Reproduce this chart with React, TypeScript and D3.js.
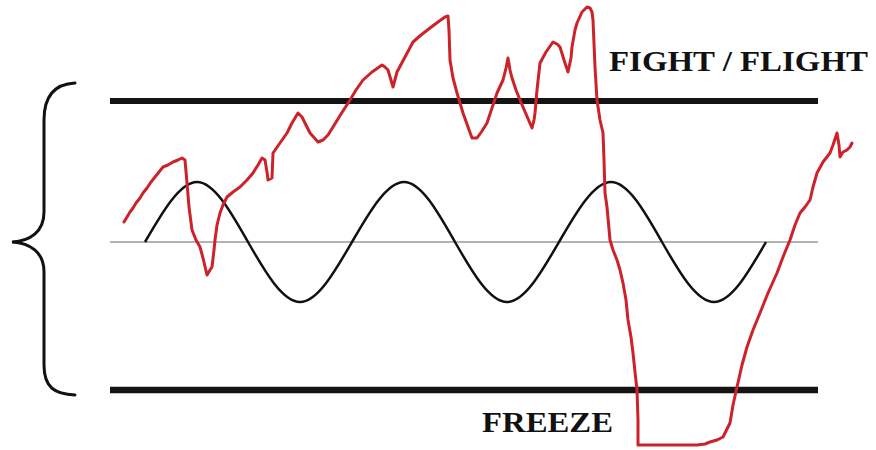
import React from "react";
import * as d3 from "d3";

// Red trace: time (frames) and arousal (relative to baseline)
const redTime = [
  14, 17, 20, 23, 26, 30, 33, 37, 41, 45, 49, 53, 58, 63, 68, 72, 75, 77, 79, 82,
  86, 90, 93, 97, 100, 102, 104, 105, 107, 110, 113, 117, 123, 130, 137, 143, 148, 152, 155, 157,
  158, 162, 163, 170, 177, 182, 188, 192, 195, 200, 208, 213, 218, 223, 231, 240, 246, 253, 262, 272,
  275, 278, 283, 287, 295, 303, 311, 320, 328, 335, 338, 339, 340, 343, 347, 353, 358, 362, 367, 372,
  377, 382, 387, 393, 396, 398, 400, 402, 406, 410, 416, 422, 424, 425, 427, 430, 436, 443, 447, 450,
  454, 458, 461, 462, 465, 467, 472, 477, 480, 482, 483, 485, 487, 490, 493, 494, 495, 497, 500, 503,
  507, 510, 513, 516, 518, 521, 523, 525, 527, 528, 528, 550, 570, 587, 595, 600, 607, 613, 620, 623,
  627, 632, 637, 643, 650, 658, 667, 673, 680, 685, 690, 695, 700, 703, 707, 713, 720, 723, 727, 729,
  730, 733, 737, 740, 742,
];
const redArousal = [
  20, 25, 30, 34, 39, 44, 49, 54, 60, 65, 70, 75, 77, 80, 82, 84, 82, 59, 35, 12,
  2, -5, -16, -33, -28, -25, -8, 2, 17, 29, 37, 45, 50, 55, 62, 69, 77, 84, 82, 70,
  62, 64, 89, 99, 109, 119, 129, 125, 119, 109, 100, 102, 107, 115, 128, 142, 152, 162, 170, 177,
  175, 172, 155, 170, 185, 200, 207, 214, 220, 225, 226, 212, 182, 164, 149, 129, 115, 104, 104, 111,
  119, 134, 149, 162, 174, 184, 172, 164, 152, 142, 128, 114, 122, 129, 152, 179, 190, 200, 198, 195,
  182, 170, 184, 195, 212, 219, 230, 235, 234, 230, 222, 175, 142, 122, 109, 82, 49, 35, 2, -8,
  -18, -28, -41, -58, -78, -95, -111, -130, -148, -178, -203, -203, -203, -203, -202, -200, -198, -195, -181, -163,
  -145, -123, -105, -88, -71, -51, -31, -15, 2, 17, 29, 35, 42, 55, 69, 80, 89, 97, 109, 97,
  85, 90, 92, 95, 99,
];

// Ideal rhythm: zero crossings and extremes
const waveTime = [35, 87, 138, 190, 242, 294, 345, 397, 449, 501, 552, 604, 656];
const waveArousal = [0, 60, 0, -60, 0, 60, 0, -60, 0, 60, 0, -60, 0];

const upperLimit = 141;
const lowerLimit = -148;
const baseline = 0;
const timeExtent = [0, 708];

const labelUpper = "FIGHT / FLIGHT";
const labelLower = "FREEZE";

export default function App() {
  const W = 876;
  const H = 450;
  const x = d3.scaleLinear().domain(timeExtent).range([110, 818]);
  const y = d3.scaleLinear().domain([lowerLimit, upperLimit]).range([390, 101]);

  const redPath =
    d3
      .line<number>()
      .x((_, i) => x(redTime[i]))
      .y((d) => y(d))(redArousal) || "";

  const wavePath =
    d3
      .line<number>()
      .x((_, i) => x(waveTime[i]))
      .y((d) => y(d))
      .curve(d3.curveNatural)(waveArousal) || "";

  const top = y(upperLimit) - 18;
  const bot = y(lowerLimit) + 5;
  const mid = y(baseline);
  const xe = 75;
  const xs = 44;
  const xt = 12;
  const brace = d3.path();
  brace.moveTo(xe, top);
  brace.bezierCurveTo(55, top + 1, xs, top + 12, xs, top + 37);
  brace.lineTo(xs, mid - 30);
  brace.bezierCurveTo(xs, mid - 10, 30, mid - 1, xt, mid);
  brace.bezierCurveTo(30, mid + 1, xs, mid + 10, xs, mid + 30);
  brace.lineTo(xs, bot - 30);
  brace.bezierCurveTo(xs, bot - 7, 55, bot - 1, xe, bot);

  return (
    <div style={{ position: "absolute", left: 0, top: 0 }}>
      <svg width={W} height={H} viewBox={`0 0 ${W} ${H}`} style={{ display: "block", background: "#fff" }}>
        <line x1={x(timeExtent[0])} x2={x(timeExtent[1])} y1={y(baseline)} y2={y(baseline)} stroke="#9a9a9a" strokeWidth={1.5} />
        <line x1={x(timeExtent[0])} x2={x(timeExtent[1])} y1={y(upperLimit)} y2={y(upperLimit)} stroke="#141414" strokeWidth={6} />
        <line x1={x(timeExtent[0])} x2={x(timeExtent[1])} y1={y(lowerLimit)} y2={y(lowerLimit)} stroke="#141414" strokeWidth={6.5} />
        <path d={wavePath} fill="none" stroke="#111" strokeWidth={2.5} />
        <path d={redPath} fill="none" stroke="#cc2229" strokeWidth={3} strokeLinejoin="round" strokeLinecap="round" />
        <path d={brace.toString()} fill="none" stroke="#111" strokeWidth={3} strokeLinecap="round" />
        <text x={609} y={71} fontFamily="'Liberation Serif', 'Times New Roman', serif" fontWeight="bold" fontSize={29} fill="#111" textLength={259} lengthAdjust="spacingAndGlyphs">
          {labelUpper}
        </text>
        <text x={482} y={432} fontFamily="'Liberation Serif', 'Times New Roman', serif" fontWeight="bold" fontSize={29} fill="#111" textLength={131} lengthAdjust="spacingAndGlyphs">
          {labelLower}
        </text>
      </svg>
    </div>
  );
}
